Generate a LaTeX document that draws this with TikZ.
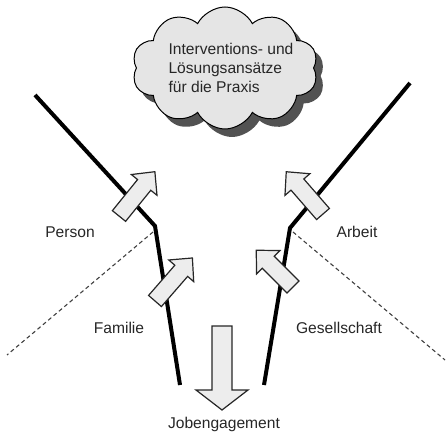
\documentclass[tikz,border=0pt]{standalone}
\usepackage{fontspec}
\setmainfont{Liberation Sans}
\usetikzlibrary{shapes.symbols,shadows}
\newcommand\myblockarrow[4]{% name, tail, angle, length
  \draw[barrow, shift={#2}, rotate=#3] (0,8.5) -- ({#4-17},8.5) -- ({#4-17},16.5) -- (#4,0)
    -- ({#4-17},-16.5) -- ({#4-17},-8.5) -- (0,-8.5) -- cycle;
  \coordinate (#1) at #2;}
\begin{document}
\begin{tikzpicture}[x=1pt,y=-1pt,
  wall/.style={line width=4pt, line join=miter, line cap=butt},
  divider/.style={dash pattern=on 4pt off 3pt, draw=black!75, line width=1.1pt},
  barrow/.style={draw=black!85, fill=black!7, line width=1.2pt, line join=miter},
  lbl/.style={font=\fontsize{15.6}{19}\selectfont, text=black!85, inner sep=0pt},
  cloudbox/.style={cloud, cloud puffs=10, cloud puff arc=125, aspect=1.5,
    draw=black, line width=1pt, fill=black!10,
    minimum width=186pt, minimum height=122pt,
    drop shadow={shadow xshift=7pt, shadow yshift=-8pt, fill=black!68, opacity=1}},
]
\useasboundingbox (0,0) rectangle (447,435);

% cloud
\node[cloudbox] (cloud) at (225,68) {};
\node[lbl, align=left] (cloudtext) at (231,68) {Interventions- und\\Lösungsansätze\\für die Praxis};

% walls
\coordinate (Ltop) at (35,95);
\coordinate (Lbend) at (155,226);
\coordinate (Lbot) at (180,385);
\coordinate (Rtop) at (410,83);
\coordinate (Rbend) at (290,228);
\coordinate (Rbot) at (264,385);
\coordinate (Ldash) at (7,355);
\coordinate (Rdash) at (445,360);
\coordinate (Ldstart) at (153,232);
\coordinate (Rdstart) at (293,232);

\draw[divider] (Ldstart) -- (Ldash);
\draw[divider] (Rdstart) -- (Rdash);
\draw[wall] (Ltop) -- (Lbend) -- (Lbot);
\draw[wall] (Rtop) -- (Rbend) -- (Rbot);

% block arrows
\myblockarrow{aUL}{(119,216)}{51}{57}
\myblockarrow{aLL}{(155,301)}{49}{57}
\myblockarrow{aUR}{(323,214)}{131}{56}
\myblockarrow{aLR}{(293,287)}{135}{52}

\draw[barrow] (212,326) -- (232,326) -- (232,390) -- (248,390) -- (222,410)
  -- (196,390) -- (212,390) -- cycle;

% labels
\node[lbl] (person) at (70,232) {Person};
\node[lbl] (familie) at (119,328) {Familie};
\node[lbl] (arbeit) at (357,232) {Arbeit};
\node[lbl] (gesell) at (339,328) {Gesellschaft};
\node[lbl] (job) at (224,424) {Jobengagement};
\end{tikzpicture}
\end{document}
